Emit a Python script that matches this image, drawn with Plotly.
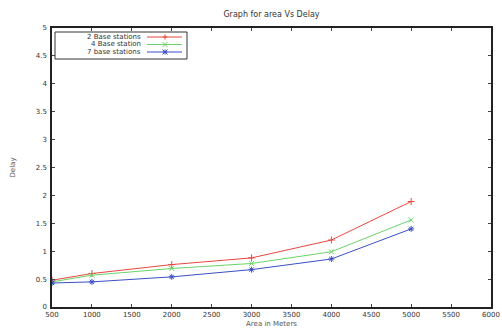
import plotly.graph_objects as go

area = [500, 1000, 2000, 3000, 4000, 5000]
delay_2bs = [0.48, 0.60, 0.76, 0.88, 1.20, 1.89]
delay_4bs = [0.45, 0.57, 0.69, 0.78, 0.99, 1.56]
delay_7bs = [0.43, 0.45, 0.54, 0.67, 0.86, 1.40]

names = ["2 Base stations", "4 Base station", "7 base stations"]
colors = ["#e8483f", "#6ad46a", "#3a4fc4"]
symbols = ["cross-thin", "x-thin", "asterisk"]

x_ticks = list(range(500, 6001, 500))
y_ticks = [0, 0.5, 1, 1.5, 2, 2.5, 3, 3.5, 4, 4.5, 5]
y_ticklabels = ["0", "0.5", "1", "1.5", "2", "2.5", "3", "3.5", "4", "4.5", "5"]

W, H = 502, 328
L, R, T, B = 52, 11, 28, 21
PW, PH = W - L - R, H - T - B


def px(x):
    return (x - L) / PW


def py(y):
    return 1 - (y - T) / PH


fig = go.Figure()
for name, ys, c, s in zip(names, [delay_2bs, delay_4bs, delay_7bs], colors, symbols):
    fig.add_trace(go.Scatter(
        x=area, y=ys, name=name, mode="lines+markers",
        line=dict(color=c, width=1),
        marker=dict(symbol=s, size=5, color=c, line=dict(color=c, width=1)),
        showlegend=False,
    ))

# gnuplot-style key (legend) drawn in paper coordinates
shapes = [dict(type="rect", xref="paper", yref="paper",
               x0=px(55), x1=px(187), y0=py(32), y1=py(59),
               line=dict(color="#333", width=1), fillcolor="white", layer="above")]
annotations = []
rows = [37, 44.5, 52]
for name, c, ry, kind in zip(names, colors, rows, ["+", "x", "*"]):
    annotations.append(dict(xref="paper", yref="paper", x=px(143), y=py(ry),
                            xanchor="right", yanchor="middle", showarrow=False,
                            text=name, font=dict(family="DejaVu Sans", size=7, color="#333")))
    shapes.append(dict(type="line", xref="paper", yref="paper",
                       x0=px(147), x1=px(182), y0=py(ry), y1=py(ry),
                       line=dict(color=c, width=1), layer="above"))
    mx, my, r = px(165), py(ry), 2.5
    dx, dy = r / PW, r / PH
    path = ""
    if kind in "+*":
        path += f"M{mx-dx},{my} L{mx+dx},{my} M{mx},{my-dy} L{mx},{my+dy} "
    if kind in "x*":
        path += f"M{mx-dx},{my-dy} L{mx+dx},{my+dy} M{mx-dx},{my+dy} L{mx+dx},{my-dy}"
    shapes.append(dict(type="path", xref="paper", yref="paper", path=path,
                       line=dict(color=c, width=1), layer="above"))

axis_common = dict(
    showline=True, linecolor="#222", linewidth=1.5, mirror="ticks",
    ticks="inside", ticklen=3, tickcolor="#444", showgrid=False, zeroline=False,
    tickfont=dict(family="DejaVu Sans", size=7, color="#333"),
)

fig.update_layout(
    width=W, height=H,
    paper_bgcolor="white", plot_bgcolor="white",
    margin=dict(l=L, r=R, t=T, b=B, autoexpand=False),
    title=dict(text="Graph for area Vs Delay", x=0.5, xanchor="center", xref="paper",
               y=1 - 14 / H, yanchor="middle",
               font=dict(family="DejaVu Sans", size=8, color="#333")),
    xaxis=dict(range=[500, 6000], tickvals=x_ticks, ticktext=[str(v) for v in x_ticks],
               title=dict(text="Area in Meters", font=dict(family="DejaVu Sans", size=7, color="#555"), standoff=10),
               **axis_common),
    yaxis=dict(range=[0, 5], tickvals=y_ticks, ticktext=y_ticklabels, ticklabelstandoff=2,
               title=dict(text="Delay", font=dict(family="DejaVu Sans", size=7, color="#555"), standoff=19),
               **axis_common),
    shapes=shapes,
    annotations=annotations,
    showlegend=False,
)

fig.write_html("out.html", config={"displayModeBar": False},
               post_script="document.body.style.margin='0px';document.body.style.overflow='hidden';")
